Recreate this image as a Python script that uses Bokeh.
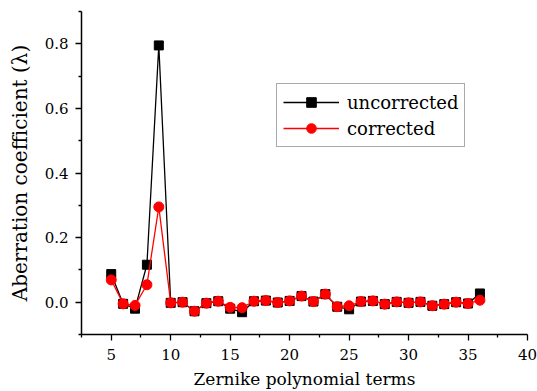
from bokeh.plotting import figure
from bokeh.models import Range1d, FixedTicker, Legend, LegendItem, NumeralTickFormatter
from bokeh.embed import file_html
from bokeh.resources import INLINE

terms = list(range(5, 37))
uncorrected = [0.087, -0.005, -0.02, 0.116, 0.795, -0.002, 0.0, -0.028, -0.003, 0.003,
               -0.02, -0.031, 0.003, 0.005, -0.001, 0.004, 0.019, 0.002, 0.025, -0.014,
               -0.022, 0.002, 0.004, -0.006, 0.001, -0.002, 0.001, -0.011, -0.006, 0.0,
               -0.004, 0.027]
corrected = [0.069, -0.005, -0.01, 0.054, 0.295, -0.002, 0.0, -0.028, -0.003, 0.003,
             -0.016, -0.017, 0.003, 0.005, -0.001, 0.004, 0.019, 0.002, 0.025, -0.014,
             -0.011, 0.002, 0.004, -0.006, 0.001, -0.002, 0.001, -0.011, -0.006, 0.0,
             -0.004, 0.006]
x_ticks = [5, 10, 15, 20, 25, 30, 35, 40]
y_ticks = [0.0, 0.2, 0.4, 0.6, 0.8]

FONT = "DejaVu Serif"

p = figure(width=537, height=391, output_backend="svg", toolbar_location=None,
           x_range=Range1d(2.5, 40), y_range=Range1d(-0.1, 0.9),
           min_border_left=81, min_border_right=10, min_border_top=11, min_border_bottom=56)
p.outline_line_color = None
p.xgrid.visible = False
p.ygrid.visible = False
p.background_fill_color = "white"
p.border_fill_color = "white"

l1 = p.line(terms, uncorrected, line_color="black", line_width=1.3)
s1 = p.scatter(terms, uncorrected, marker="square", size=9, fill_color="black", line_color="black")
l2 = p.line(terms, corrected, line_color="#ff0000", line_width=1.3)
s2 = p.scatter(terms, corrected, marker="circle", size=10, fill_color="#ff0000", line_color="#ff0000")

p.xaxis.ticker = FixedTicker(ticks=x_ticks, minor_ticks=[2.5 + 5 * i for i in range(8)])
p.yaxis.ticker = FixedTicker(ticks=y_ticks, minor_ticks=[-0.1 + 0.2 * i for i in range(6)])
p.yaxis.formatter = NumeralTickFormatter(format="0.0")

for ax in (p.xaxis[0], p.yaxis[0]):
    ax.axis_line_width = 1.5
    ax.axis_line_color = "black"
    ax.major_tick_line_color = "black"
    ax.minor_tick_line_color = "black"
    ax.major_tick_line_width = 1.3
    ax.minor_tick_line_width = 1.3
    ax.major_tick_in = 0
    ax.major_tick_out = 6
    ax.minor_tick_in = 0
    ax.minor_tick_out = 3
    ax.major_label_text_font = FONT
    ax.major_label_text_font_size = "15px"
    ax.major_label_text_color = "black"
    ax.axis_label_text_font = FONT
    ax.axis_label_text_font_style = "normal"
    ax.axis_label_text_color = "black"

p.xaxis.axis_label = "Zernike polynomial terms"
p.xaxis.axis_label_text_font_size = "17px"
p.xaxis.major_label_standoff = 8
p.xaxis.axis_label_standoff = 6
p.yaxis.axis_label = "Aberration coefficient (\u03bb)"
p.yaxis.axis_label_text_font_size = "20px"
p.yaxis.major_label_standoff = 7
p.yaxis.axis_label_standoff = 10

legend = Legend(items=[LegendItem(label="uncorrected", renderers=[l1, s1]),
                       LegendItem(label="corrected", renderers=[l2, s2])],
                location=(195, 187))
legend.label_text_font = FONT
legend.label_text_font_size = "18px"
legend.label_text_color = "black"
legend.border_line_color = "#555555"
legend.border_line_width = 1
legend.padding = 6
legend.spacing = 2
legend.margin = 0
legend.glyph_width = 56
legend.glyph_height = 24
legend.label_height = 24
legend.label_standoff = 8
legend.background_fill_alpha = 1
p.add_layout(legend, "center")

open("out.html", "w").write(file_html(p, INLINE))
